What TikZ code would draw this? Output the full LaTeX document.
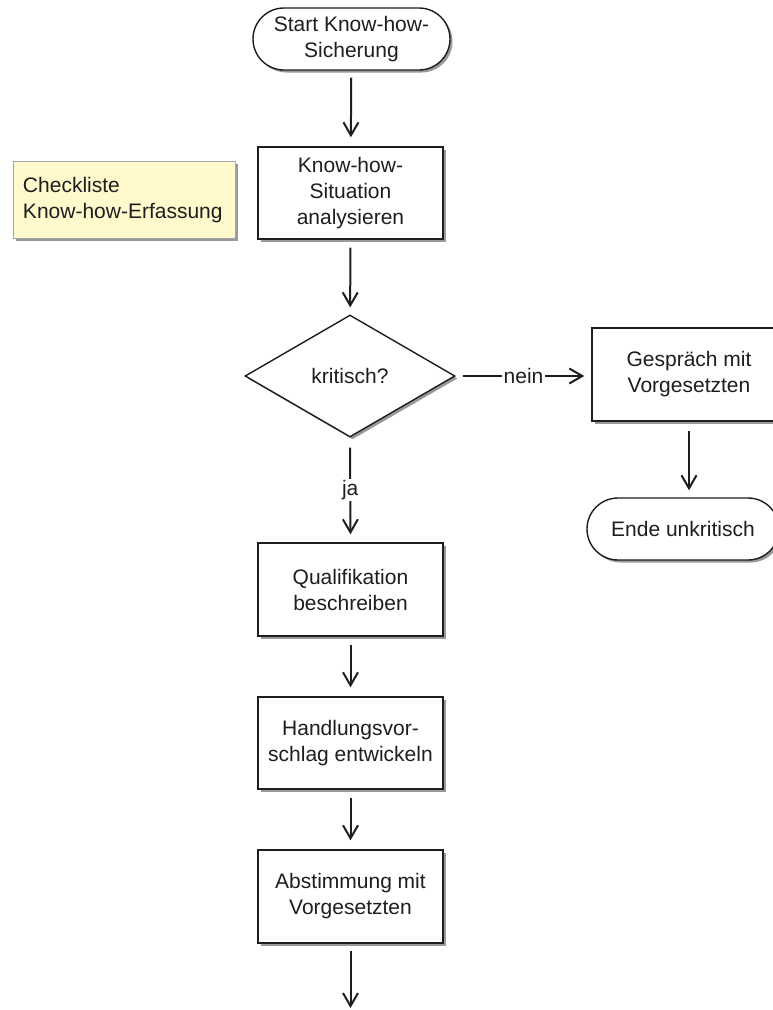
\documentclass[tikz,border=0pt]{standalone}
\usepackage{fontspec}
\setmainfont{Liberation Sans}
\usetikzlibrary{arrows.meta,shapes.geometric,shadows}
\definecolor{notefill}{RGB}{255,249,204}
\definecolor{ink}{RGB}{30,30,30}
\begin{document}
\begin{tikzpicture}[x=1pt,y=-1pt,
  every node/.style={font=\fontsize{21}{26}\selectfont, text=ink},
  shad/.style={drop shadow={shadow xshift=2.5pt,shadow yshift=-2.5pt,fill=black!40,opacity=1}},
  procbox/.style={draw=ink, line width=1.4pt, fill=white, minimum width=185pt, minimum height=93pt, inner sep=0pt, align=center, shad},
  termbox/.style={draw=ink, line width=1.4pt, fill=white, rounded corners=31pt, minimum height=62pt, inner sep=0pt, align=center, shad},
  decbox/.style={diamond, draw=ink, line width=1.4pt, fill=white, minimum width=210pt, minimum height=122pt, inner sep=0pt, shad},
  notebox/.style={draw=black!35, line width=1pt, fill=notefill, minimum width=222pt, minimum height=77pt, inner xsep=10pt, inner ysep=0pt, text width=202pt, align=left, shad},
  conn/.style={line width=2pt, draw=ink, -{Straight Barb[length=13pt,width=15pt]}},
  lbl/.style={fill=white, inner sep=1.5pt}
]
\useasboundingbox (0,0) rectangle (773,1010);
\clip (0,0) rectangle (773,1010);

\node[termbox, minimum width=197pt] (start) at (351.5,39) {Start Know-how-\\Sicherung};
\node[procbox, minimum height=92pt] (know) at (350.5,193) {Know-how-\\Situation\\analysieren};
\node[notebox] (note) at (124,200) {Checkliste\\Know-how-Erfassung};
\node[decbox] (crit) at (350,376) {kritisch?};
\node[procbox, minimum width=194pt] (talk) at (689,374.5) {Gespräch mit\\Vorgesetzten};
\node[termbox, minimum width=192pt] (endu) at (683,529) {Ende unkritisch};
\node[procbox] (qual) at (350.5,589.5) {Qualifikation\\beschreiben};
\node[procbox, minimum height=92pt] (hand) at (350.5,743) {Handlungsvor-\\schlag entwickeln};
\node[procbox] (abst) at (350.5,896.5) {Abstimmung mit\\Vorgesetzten};
\coordinate (out) at (350.5,1008);

\draw[conn, shorten <=7pt, shorten >=9pt] (start) -- (know);
\draw[conn, shorten <=8pt, shorten >=7pt] (know) -- (crit);
\draw[conn, shorten <=7pt, shorten >=7pt] (crit.east) -- (crit.east -| talk.west) node[midway, lbl] {nein};
\draw[conn, shorten <=9pt, shorten >=7pt] (talk.south) -- (talk.south |- endu.north);
\draw[conn, shorten <=10pt, shorten >=8pt] (crit.south) -- (qual.north) node[midway, lbl] {ja};
\draw[conn, shorten <=8pt, shorten >=9pt] (qual) -- (hand);
\draw[conn, shorten <=8pt, shorten >=9pt] (hand) -- (abst);
\draw[conn, shorten <=7pt] (abst) -- (out);
\end{tikzpicture}
\end{document}
